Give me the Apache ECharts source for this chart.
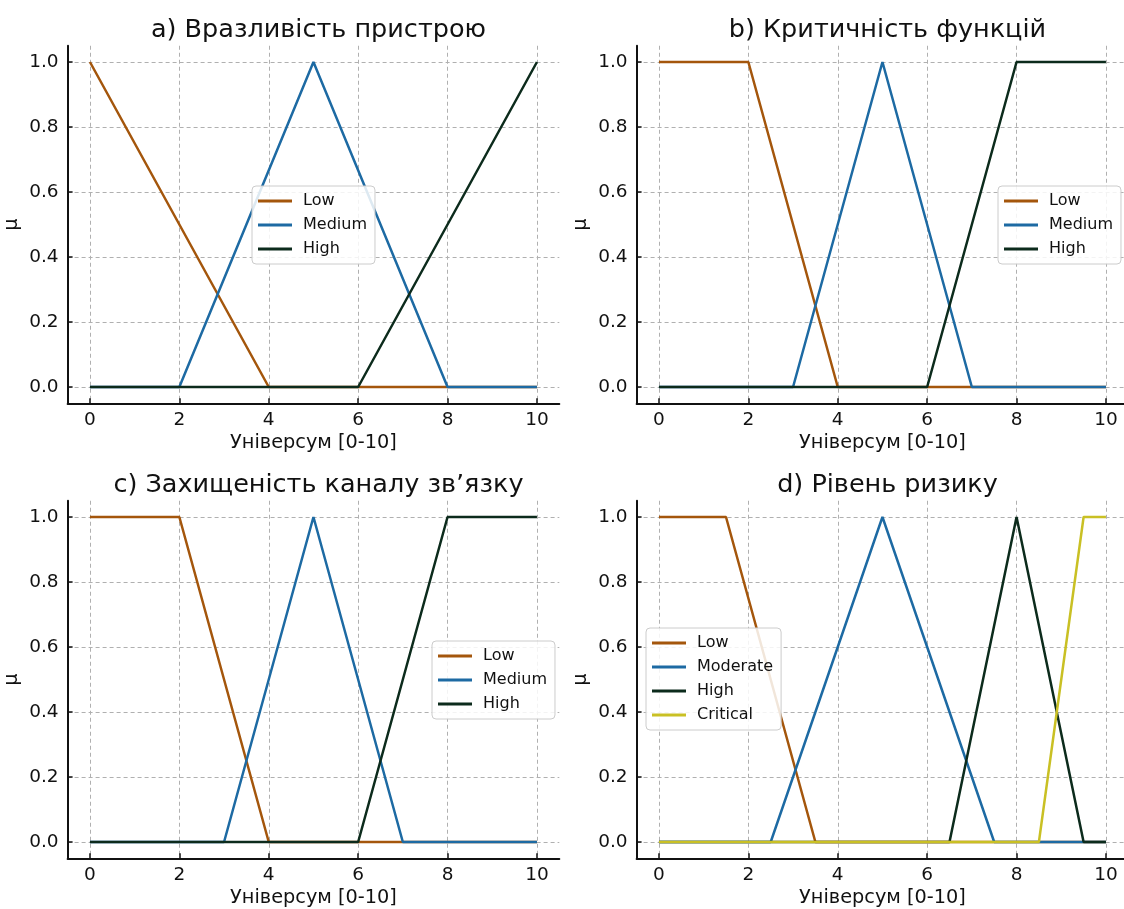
<!DOCTYPE html>
<html><head><meta charset="utf-8">
<script src="https://cdn.jsdelivr.net/npm/echarts@6/dist/echarts.min.js"></script>
<style>html,body{margin:0;padding:0;background:#fff}#c{width:1124px;height:909px}</style>
</head><body><div id="c"></div>
<script>
// ---- data ----
const titles = ['a) Вразливість пристрою', 'b) Критичність функцій', 'c) Захищеність каналу зв’язку', 'd) Рівень ризику'];
const xTicks = [0, 2, 4, 6, 8, 10];
const yTicks = [0, 0.2, 0.4, 0.6, 0.8, 1.0];
const xLabel = 'Універсум [0-10]';
const yLabel = 'μ';

const aNames = ['Low', 'Medium', 'High'];
const aLow = [[0, 1], [4, 0], [10, 0]];
const aMedium = [[0, 0], [2, 0], [5, 1], [8, 0], [10, 0]];
const aHigh = [[0, 0], [6, 0], [10, 1]];

const bNames = ['Low', 'Medium', 'High'];
const bLow = [[0, 1], [2, 1], [4, 0], [10, 0]];
const bMedium = [[0, 0], [3, 0], [5, 1], [7, 0], [10, 0]];
const bHigh = [[0, 0], [6, 0], [8, 1], [10, 1]];

const cNames = ['Low', 'Medium', 'High'];
const cLow = [[0, 1], [2, 1], [4, 0], [10, 0]];
const cMedium = [[0, 0], [3, 0], [5, 1], [7, 0], [10, 0]];
const cHigh = [[0, 0], [6, 0], [8, 1], [10, 1]];

const dNames = ['Low', 'Moderate', 'High', 'Critical'];
const dLow = [[0, 1], [1.5, 1], [3.5, 0], [10, 0]];
const dModerate = [[0, 0], [2.5, 0], [5, 1], [7.5, 0], [10, 0]];
const dHigh = [[0, 0], [6.5, 0], [8, 1], [9.5, 0], [10, 0]];
const dCritical = [[0, 0], [8.5, 0], [9.5, 1], [10, 1]];

const colors = ['#a4560c', '#1d6aa3', '#0c2b1c', '#c9c024'];

// ---- layout ----
const FONT = 'DejaVu Sans';
const panels = [
  {left: 67.6, top: 45.75, names: aNames, data: [aLow, aMedium, aHigh], legend: {left: 252, top: 186}},
  {left: 636.6, top: 45.75, names: bNames, data: [bLow, bMedium, bHigh], legend: {left: 998, top: 186}},
  {left: 67.6, top: 500.75, names: cNames, data: [cLow, cMedium, cHigh], legend: {left: 432, top: 641}},
  {left: 636.6, top: 500.75, names: dNames, data: [dLow, dModerate, dHigh, dCritical], legend: {left: 646, top: 628}}
];
const W = 491.7, H = 357.5;

const grid = [], xAxis = [], yAxis = [], series = [], title = [], legend = [];
panels.forEach((p, i) => {
  grid.push({left: p.left, top: p.top, width: W, height: H, containLabel: false, outerBoundsMode: 'none'});
  title.push({text: titles[i], left: p.left + W / 2, top: p.top - 33, textAlign: 'center',
    textStyle: {fontFamily: FONT, fontSize: 25.5, fontWeight: 'normal', color: '#111'}});
  xAxis.push({type: 'value', gridIndex: i, min: -0.5, max: 10.5,
    name: xLabel, nameLocation: 'middle', nameGap: 30,
    nameTextStyle: {fontFamily: FONT, fontSize: 19.3, color: '#111'},
    axisLine: {show: true, onZero: false, lineStyle: {color: '#111', width: 2}},
    axisTick: {show: true, inside: true, length: 5, customValues: xTicks, lineStyle: {color: '#111', width: 1.5}},
    axisLabel: {customValues: xTicks, fontFamily: FONT, fontSize: 18.5, color: '#111', margin: 7},
    splitLine: {show: true, lineStyle: {color: '#b0b0b0', type: [4, 3], width: 1}}
  });
  yAxis.push({type: 'value', gridIndex: i, min: -0.05, max: 1.05,
    name: yLabel, nameLocation: 'middle', nameGap: 46, nameRotate: 90,
    nameTextStyle: {fontFamily: FONT, fontSize: 19, color: '#111'},
    axisLine: {show: true, onZero: false, lineStyle: {color: '#111', width: 2}},
    axisTick: {show: true, inside: true, length: 5, customValues: yTicks, lineStyle: {color: '#111', width: 1.5}},
    axisLabel: {customValues: yTicks, fontFamily: FONT, fontSize: 18.5, color: '#111', margin: 9,
      formatter: v => v.toFixed(1)},
    splitLine: {show: true, lineStyle: {color: '#b0b0b0', type: [4, 3], width: 1}}
  });
  const names = p.names.map(n => n + '__' + i);
  p.data.forEach((d, k) => {
    series.push({type: 'line', name: names[k], xAxisIndex: i, yAxisIndex: i, data: d,
      showSymbol: false, symbol: 'none', animation: false, color: colors[k],
      lineStyle: {width: 2.5, color: colors[k]}});
  });
  legend.push({data: names, left: p.legend.left, top: p.legend.top, orient: 'vertical',
    backgroundColor: 'rgba(255,255,255,0.85)', borderColor: '#cccccc', borderWidth: 1, borderRadius: 4,
    padding: [6, 8, 6, 6], itemGap: 6, itemWidth: 34, itemHeight: 3, icon: 'rect',
    formatter: n => n.split('__')[0],
    textStyle: {fontFamily: FONT, fontSize: 16, color: '#111', lineHeight: 18, padding: [0, 0, 0, 6]}});
});

const chart = echarts.init(document.getElementById('c'), null, {renderer: 'canvas'});
chart.setOption({backgroundColor: '#fff', animation: false, title, grid, xAxis, yAxis, series, legend});
</script></body></html>
